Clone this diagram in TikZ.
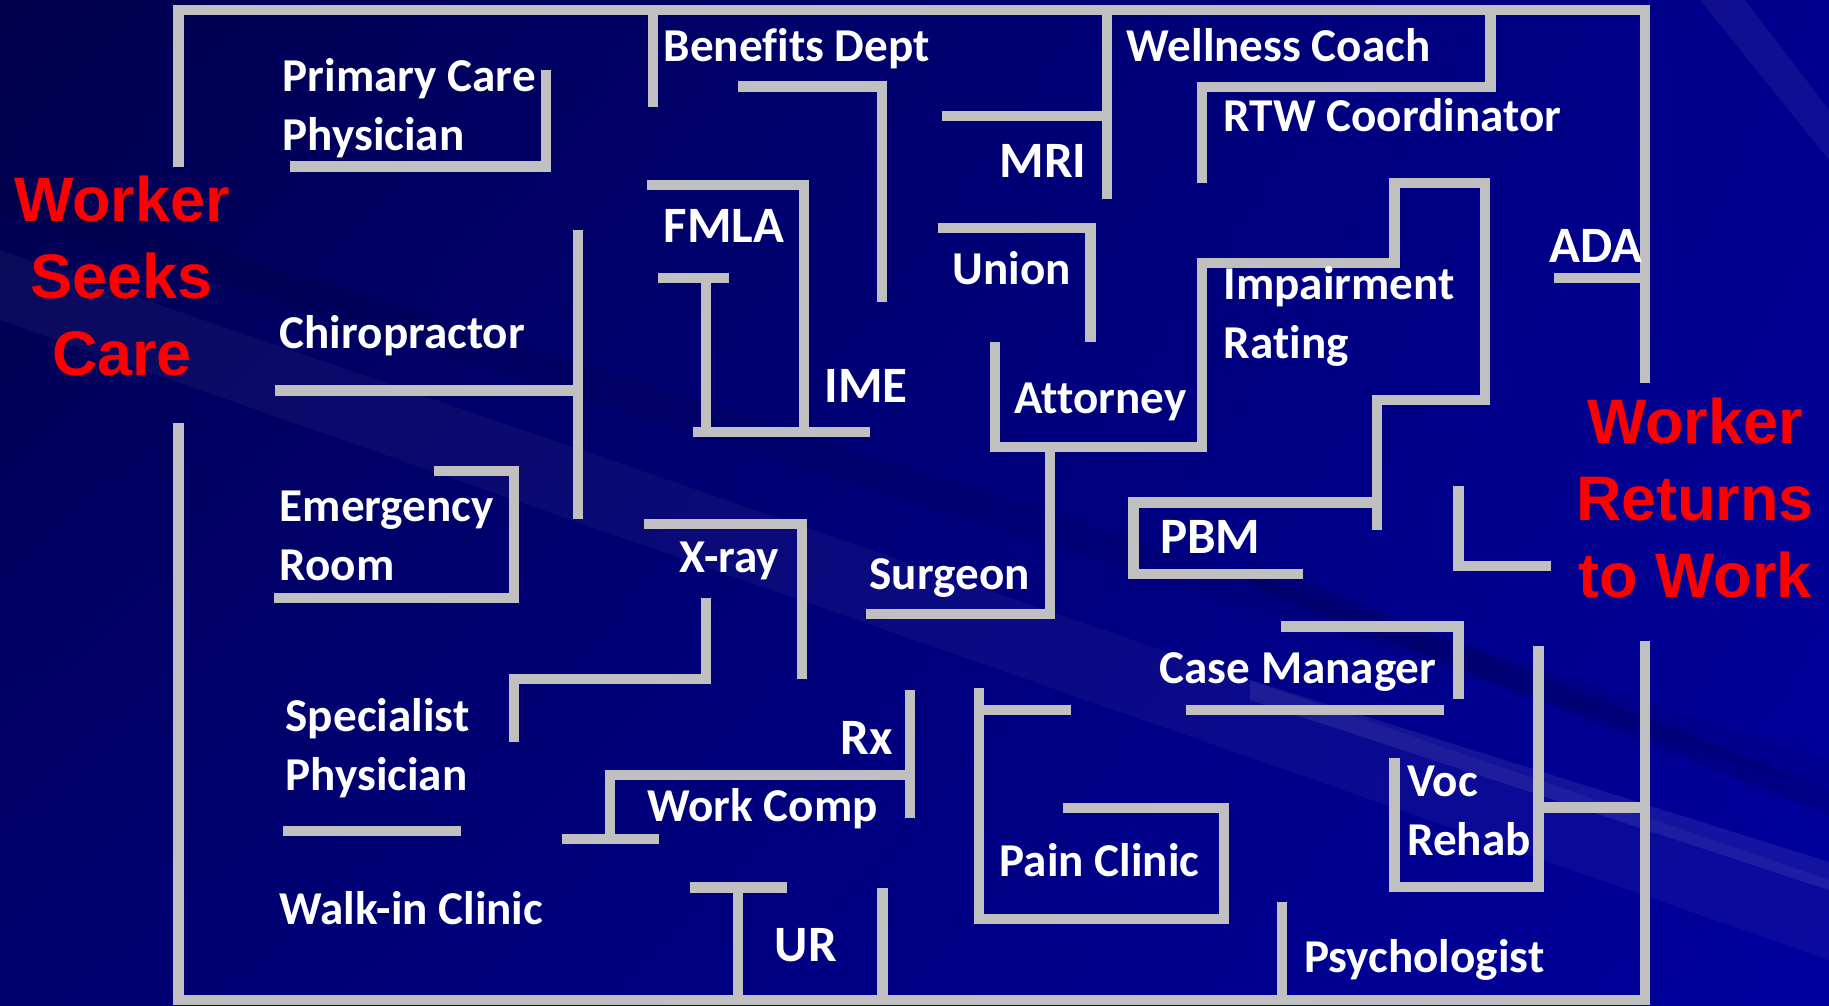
\documentclass[tikz,border=0pt]{standalone}
\usepackage{fontspec}
\setmainfont{Carlito}[Ligatures=NoCommon]
\newfontfamily\arialfont{Liberation Sans}
\usepackage{tikz}
\usetikzlibrary{positioning,shadings}
\definecolor{wallgray}{HTML}{C0C0C0}
\definecolor{mazered}{HTML}{FF0000}
\definecolor{bgtl}{HTML}{00004C}
\definecolor{bgtr}{HTML}{00008E}
\definecolor{bgbl}{HTML}{00006E}
\definecolor{bgbr}{HTML}{00009E}
\tikzset{
  wall/.style={draw=wallgray, line width=3pt, line join=miter},
  stoplabel/.style={
    anchor=base west, inner sep=0pt, text=white, align=left,
    font=\fontsize{13.4}{16.5}\selectfont\bfseries
  },
  bigstop/.style={stoplabel, font=\fontsize{14.5}{16.5}\selectfont\bfseries},
  endlabel/.style={
    anchor=base, inner sep=0pt, align=center, text=mazered,
    font=\arialfont\fontsize{17.9}{21.8}\selectfont\bfseries
  },
  streak/.style={fill=white, opacity=#1},
  streak/.default=0.04,
}

\begin{document}
\begin{tikzpicture}[x=0.01cm, y=-0.01cm]
\useasboundingbox (0,0) rectangle (1829,1005);

% background
\shade[upper left=bgtl, upper right=bgtr, lower left=bgbl, lower right=bgbr]
  (0,0) rectangle (1829,1005);
\fill[streak] (0,250) -- (1829,880) -- (1829,960) -- (0,320) -- cycle;
\fill[streak=0.08] (1250,680) -- (1829,862) -- (1829,890) -- (1250,700) -- cycle;
\fill[black, opacity=0.12] (1250,560) -- (1829,790) -- (1829,815) -- (1250,585) -- cycle;
\fill[black, opacity=0.07] (0,180) -- (1829,760) -- (1829,790) -- (0,215) -- cycle;
\fill[streak=0.06] (1700,0) -- (1745,0) -- (1829,110) -- (1829,160) -- cycle;

% outer frame, open on both sides
\draw[wall] (178.5,167) -- (178.5,10) -- (1645,10) -- (1645,383);
\draw[wall] (178.5,423) -- (178.5,1000) -- (1645,1000) -- (1645,641);

% left column
\draw[wall] (290,166.5) -- (546,166.5) -- (546,70);
\draw[wall] (275,390.5) -- (578,390.5);
\draw[wall] (578,230) -- (578,518.5);
\draw[wall] (434,471) -- (514,471) -- (514,598) -- (274,598);
\draw[wall] (283,831) -- (461,831);

% x-ray, work comp, rx, ur
\draw[wall] (514,742) -- (514,679) -- (706,679) -- (706,598);
\draw[wall] (644,524) -- (802,524) -- (802,678.5);
\draw[wall] (910,690) -- (910,817.5);
\draw[wall] (910,775) -- (610,775) -- (610,839);
\draw[wall] (562,839) -- (658.5,839);
\draw[wall] (690,887.5) -- (787,887.5);
\draw[wall] (738,887.5) -- (738,1000);
\draw[wall] (882.5,887.5) -- (882.5,1000);

% benefits, fmla, ime
\draw[wall] (653,10) -- (653,107);
\draw[wall] (738,86.5) -- (882,86.5) -- (882,302);
\draw[wall] (647,185) -- (804,185) -- (804,432);
\draw[wall] (693,432) -- (870,432);
\draw[wall] (658,278) -- (728.5,278);
\draw[wall] (706,278) -- (706,432);

% mri, union, attorney, surgeon
\draw[wall] (1107,10) -- (1107,199);
\draw[wall] (942,116) -- (1107,116);
\draw[wall] (938,228) -- (1090.5,228) -- (1090.5,342);
\draw[wall] (995,342) -- (995,447) -- (1202,447) -- (1202,263) -- (1394.5,263)
  -- (1394.5,183) -- (1485,183) -- (1485,400) -- (1377,400) -- (1377,529.5);
\draw[wall] (1050,447) -- (1050,614) -- (866,614);

% rtw, ada
\draw[wall] (1202,183) -- (1202,87) -- (1490.6,87) -- (1490.6,10);
\draw[wall] (1554,278) -- (1645,278);

% pbm, case manager
\draw[wall] (1303,574) -- (1133.5,574) -- (1133.5,502.6) -- (1377,502.6);
\draw[wall] (1458.6,486) -- (1458.6,566) -- (1551,566);
\draw[wall] (1281,626.5) -- (1458.6,626.5) -- (1458.6,698.6);
\draw[wall] (1186,710) -- (1444,710);

% pain clinic, voc rehab, psychologist
\draw[wall] (979,688) -- (979,919) -- (1224,919) -- (1224,808) -- (1062.6,808);
\draw[wall] (979,710) -- (1070.5,710);
\draw[wall] (1394.5,758) -- (1394.5,887) -- (1538.5,887) -- (1538.5,646);
\draw[wall] (1538.5,807.6) -- (1645,807.6);
\draw[wall] (1282,902) -- (1282,1000);

% start and finish (base = last line)
\node[endlabel] (seeks) at (122,375) {Worker\\Seeks\\Care};
\node[endlabel] (returns) at (1695,597) {Worker\\Returns\\to Work};

% stops along the way
\node[stoplabel] (pcp) at (282,150) {Primary Care\\Physician};
\node[stoplabel] (chiro) at (279,348) {Chiropractor};
\node[stoplabel] (er) at (279,580) {Emergency\\Room};
\node[stoplabel] (spec) at (285,790) {Specialist\\Physician};
\node[stoplabel] (walkin) at (279,924) {Walk-in Clinic};
\node[stoplabel] (benefits) at (663,61) {Benefits Dept};
\node[bigstop] (fmla) at (663,242) {FMLA};
\node[bigstop] (ime) at (824,402) {IME};
\node[stoplabel] (xray) at (679,572) {X-ray};
\node[bigstop] (rx) at (840,754) {Rx};
\node[stoplabel] (workcomp) at (647,821.5) {Work Comp};
\node[bigstop] (ur) at (774,961) {UR};
\node[bigstop] (mri) at (999,177) {MRI};
\node[stoplabel] (union) at (952,284) {Union};
\node[stoplabel] (attorney) at (1014,413) {Attorney};
\node[stoplabel] (surgeon) at (869,589) {Surgeon};
\node[stoplabel] (wellness) at (1126,61) {Wellness Coach};
\node[stoplabel] (rtw) at (1223,131) {RTW Coordinator};
\node[stoplabel] (impair) at (1223,358) {Impairment\\Rating};
\node[bigstop] (ada) at (1549,262) {ADA};
\node[bigstop] (pbm) at (1159.5,553.7) {PBM};
\node[stoplabel] (casemgr) at (1159,683.5) {Case Manager};
\node[stoplabel] (pain) at (999,876) {Pain Clinic};
\node[stoplabel] (voc) at (1406.6,855) {Voc\\Rehab};
\node[stoplabel] (psych) at (1303.5,972) {Psychologist};

\end{tikzpicture}
\end{document}
